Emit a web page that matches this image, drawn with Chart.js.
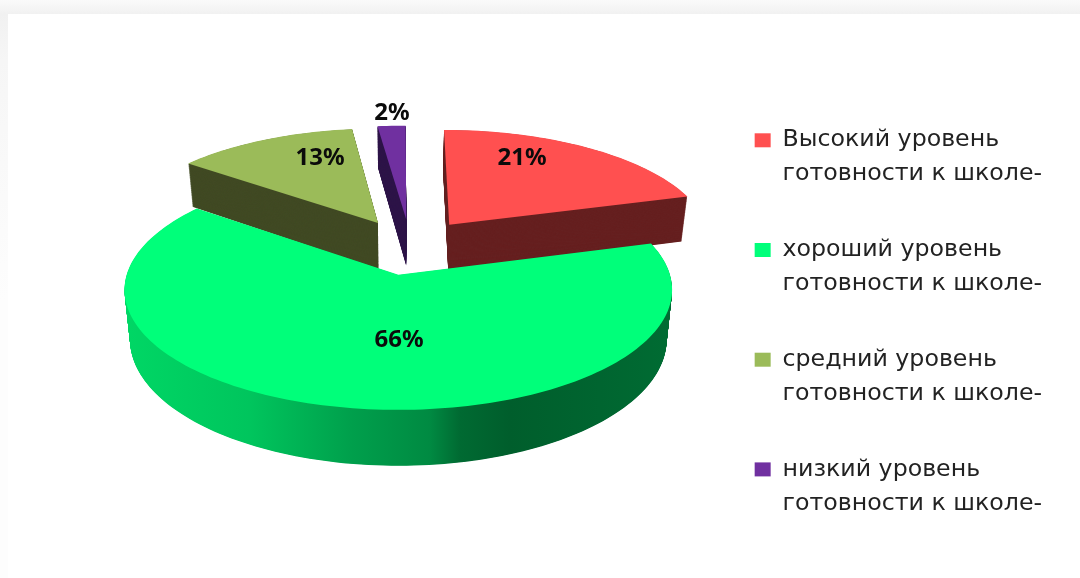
<!DOCTYPE html>
<html><head><meta charset="utf-8">
<style>
html,body{margin:0;padding:0;width:1080px;height:578px;overflow:hidden;background:linear-gradient(#fafafa,#f1f1f1 14px,#f6f6f6 60px,#fdfdfd 300px)}
#sheet{position:absolute;left:8px;top:14px;right:0;bottom:0;background:#fff}
canvas{position:absolute;left:0;top:0}
</style>
<script src="https://cdn.jsdelivr.net/npm/chart.js@4"></script>
</head><body><div id="sheet"></div><canvas id="c" width="1080" height="578"></canvas>
<script>
const categories = [
  ['Высокий уровень', 'готовности к школе-'],
  ['хороший уровень', 'готовности к школе-'],
  ['средний уровень', 'готовности к школе-'],
  ['низкий уровень', 'готовности к школе-']
];
const values = [21, 66, 13, 2];
const topColors = ['#ff5050', '#00ff7a', '#9bbb59', '#7030a0'];
const sideColors = ['#662020', null, '#414a24', '#2e1548'];
const greenSideStops = [[124,'#00d765'],[250,'#00c55d'],[350,'#00a04c'],[430,'#008a42'],[460,'#006a32'],[510,'#005e2c'],[600,'#006530'],[672,'#006c33']];
const drawOrder = [3, 2, 0, 1];
const labelAnchors = [[522,158],[399,340],[320,158],[392,113]];

/* camera for the tilted pie plane */
const CAM = {x0:400, y0:276, a:272, b:118.5, k:0.125, cx:0.04, cy:-0.257, depth:49, shrink:0.02};
function project(p, q) {
  const P = p + CAM.cx, Q = q + CAM.cy, w = 1 - CAM.k * Q;
  return {x: CAM.x0 + CAM.a * P / w, y: CAM.y0 + CAM.b * Q / w, w};
}
function outline(arc) {
  const {startAngle, endAngle, outerRadius: R, options} = arc;
  const mid = (startAngle + endAngle) / 2, e = options.offset / R;
  const ox = Math.cos(mid) * e, oy = Math.sin(mid) * e;
  const pts = [project(ox, oy)];
  const n = Math.max(6, Math.ceil((endAngle - startAngle) * 40));
  for (let i = 0; i <= n; i++) {
    const t = startAngle + (endAngle - startAngle) * i / n;
    pts.push(project(ox + Math.cos(t), oy + Math.sin(t)));
  }
  return pts;
}
function fillShape(ctx, pts, depth, style) {
  const s = 1 - CAM.shrink * depth / CAM.depth;
  ctx.beginPath();
  pts.forEach((pt, i) => {
    const x = CAM.x0 + (pt.x - CAM.x0) * s, y = pt.y + depth / pt.w;
    if (i) ctx.lineTo(x, y); else ctx.moveTo(x, y);
  });
  ctx.closePath();
  ctx.fillStyle = style;
  ctx.fill();
}
const tiltedPie = {
  id: 'tiltedPie',
  beforeDatasetDraw(chart) {
    const ctx = chart.ctx, arcs = chart.getDatasetMeta(0).data;
    const grad = ctx.createLinearGradient(124, 0, 672, 0);
    greenSideStops.forEach(([x, c]) => grad.addColorStop((x - 124) / 548, c));
    ctx.save();
    drawOrder.forEach(i => {
      const pts = outline(arcs[i]);
      const side = sideColors[i] || grad;
      for (let d = CAM.depth; d > 0; d -= 0.5) fillShape(ctx, pts, d, side);
      fillShape(ctx, pts, 0, topColors[i]);
    });
    ctx.font = 'bold 24px "Noto Sans"';
    ctx.textAlign = 'center';
    ctx.textBaseline = 'middle';
    ctx.fillStyle = '#0b0b0b';
    values.forEach((v, i) => ctx.fillText(v + '%', labelAnchors[i][0], labelAnchors[i][1]));
    ctx.restore();
    return false;
  }
};
new Chart(document.getElementById('c'), {
  type: 'pie',
  data: {
    labels: categories,
    datasets: [{data: values, backgroundColor: topColors, borderWidth: 0, offset: 56}]
  },
  options: {
    responsive: false,
    animation: false,
    layout: {padding: {top: 76, right: 28}},
    plugins: {
      tooltip: {enabled: false},
      legend: {
        position: 'right',
        labels: {
          boxWidth: 16, boxHeight: 14, padding: 41.7,
          color: '#222222',
          font: {family: '"DejaVu Sans"', size: 23.7, lineHeight: '34px'}
        }
      }
    }
  },
  plugins: [tiltedPie]
});
</script></body></html>
